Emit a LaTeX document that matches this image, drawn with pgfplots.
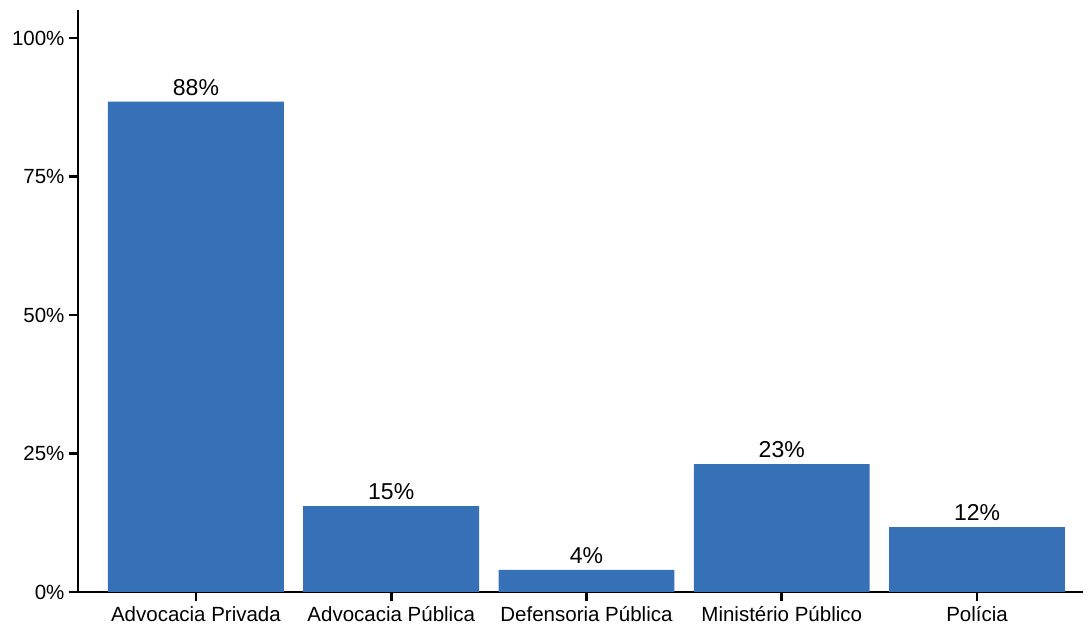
\documentclass[border=0pt]{standalone}
\usepackage{pgfplots}
\pgfplotsset{compat=1.18}
\usepackage{fontspec}
\setmainfont{Liberation Sans}
\definecolor{barblue}{HTML}{3671B8}
\begin{document}
\begin{tikzpicture}
\path[use as bounding box] (-78pt,-39pt) rectangle (1005pt,592pt);
\begin{axis}[
  at={(0,0)}, anchor=south west,
  scale only axis,
  width=1005pt, height=582pt,
  xmin=-0.604, xmax=4.543,
  ymin=0, ymax=105.05,
  axis lines*=left,
  axis line style={line width=2.8pt, -},
  ybar, bar width=0.901, bar shift=0pt,
  xtick={0,1,2,3,4},
  xticklabels={Advocacia Privada, Advocacia Pública, Defensoria Pública, Ministério Público, Polícia},
  ytick={0,25,50,75,100},
  yticklabels={0\%,25\%,50\%,75\%,100\%},
  tick align=outside,
  major tick length=9pt,
  tick style={line width=2.8pt, black},
  tick label style={font=\fontsize{20.5}{24}\selectfont, text=black},
  xticklabel style={yshift=-2pt},
  yticklabel style={xshift=-1pt},
  point meta=explicit symbolic,
  nodes near coords,
  nodes near coords style={font=\fontsize{23}{27}\selectfont, anchor=south, inner sep=0pt, yshift=6pt},
  clip=false,
]
\addplot[fill=barblue, draw=none] coordinates {
  (0,88.5) [88\%]
  (1,15.5) [15\%]
  (2,4.0) [4\%]
  (3,23.1) [23\%]
  (4,11.7) [12\%]
};
\end{axis}
\end{tikzpicture}
\end{document}
